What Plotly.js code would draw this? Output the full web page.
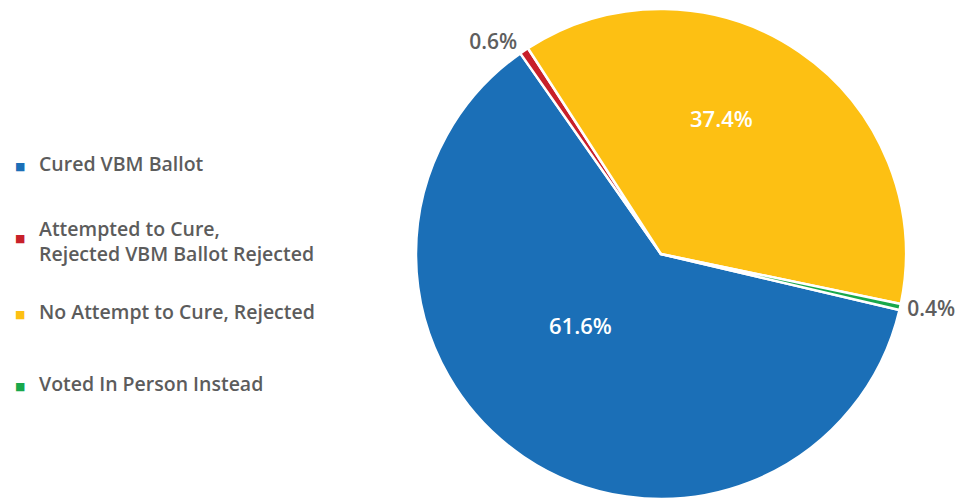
<!DOCTYPE html>
<html>
<head>
<meta charset="utf-8">
<script src="https://cdn.plot.ly/plotly-3.0.1.min.js"></script>
<style>html,body{margin:0;padding:0;background:#fff;}#chart{width:964px;height:500px;}</style>
</head>
<body>
<div id="chart"></div>
<script>
// Data
const labels = ["Cured VBM Ballot", "Attempted to Cure,<br>Rejected VBM Ballot Rejected", "No Attempt to Cure, Rejected", "Voted In Person Instead"];
const values = [61.6, 0.6, 37.4, 0.4];
const colors = ["#1b6fb7", "#c8202a", "#fdc013", "#18a84b"];
const showOnSlice = [false, true, false, true];   // outside labels drawn by the pie itself

const FONT = "Open Sans, Noto Sans, sans-serif";

const trace = {
  type: "pie",
  labels: labels,
  values: values,
  sort: false,
  direction: "clockwise",
  rotation: 103.2,
  marker: {colors: colors, line: {color: "#ffffff", width: 2.5}},
  texttemplate: showOnSlice.map(s => s ? "%{value:.1f}%" : ""),
  textposition: "outside",
  textfont: {family: FONT, size: 21, color: "#5e5e5e", weight: 600},
  showlegend: false,
  hoverinfo: "label+percent",
  domain: {x: [0.4315, 0.9398], y: [0.002, 0.982]}
};

const annotations = [];
// inside value labels for the two large slices
const insideLabelPos = {0: [580, 325], 2: [721, 118]};
Object.keys(insideLabelPos).forEach(k => {
  const i = +k;
  annotations.push({
    xref: "paper", yref: "paper",
    x: insideLabelPos[k][0] / 964, y: 1 - insideLabelPos[k][1] / 500,
    xanchor: "center", yanchor: "middle",
    text: values[i].toFixed(1) + "%", showarrow: false,
    font: {family: FONT, size: 22, color: "#ffffff", weight: 600}
  });
});

// legend built from labels/colors
const legendY = [163, 241, 311, 383];
labels.forEach((lab, i) => {
  annotations.push({
    xref: "paper", yref: "paper",
    x: 20 / 964, y: 1 - ((i === 1 ? 238 : legendY[i] + 3)) / 500,
    xanchor: "center", yanchor: "middle",
    text: "■", showarrow: false,
    font: {family: "DejaVu Sans", size: 11, color: colors[i]}
  });
  annotations.push({
    xref: "paper", yref: "paper",
    x: 37 / 964, y: 1 - legendY[i] / 500,
    xanchor: "left", yanchor: "middle", align: "left",
    text: lab, showarrow: false,
    font: {family: FONT, size: 19.5, color: "#5c5c5c", weight: 600}
  });
});

const layout = {
  width: 964, height: 500,
  margin: {l: 0, r: 0, t: 0, b: 0},
  paper_bgcolor: "#ffffff",
  showlegend: false,
  annotations: annotations
};

Plotly.newPlot("chart", [trace], layout, {displayModeBar: false, staticPlot: true});
</script>
</body>
</html>
